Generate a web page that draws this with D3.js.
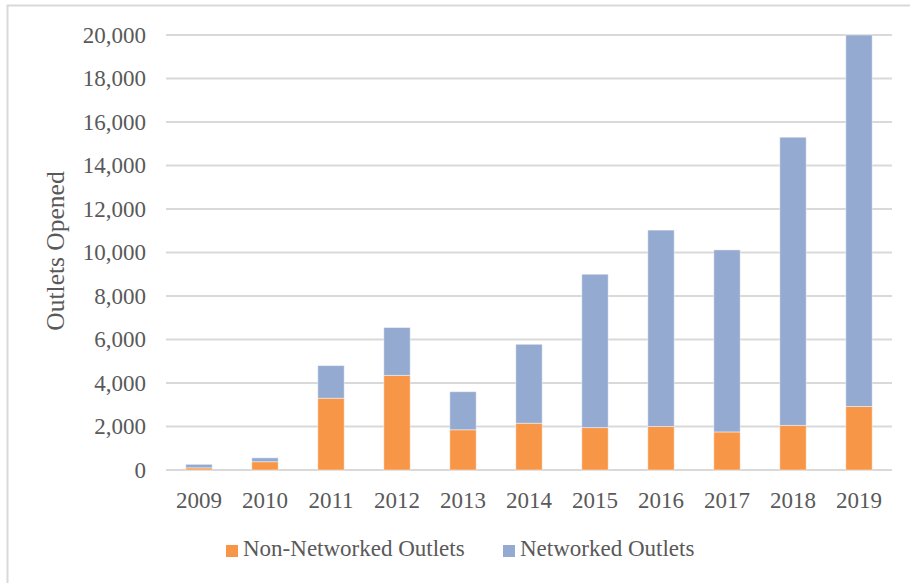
<!DOCTYPE html>
<html>
<head>
<meta charset="utf-8">
<script src="https://cdn.jsdelivr.net/npm/d3@7"></script>
<style>
  body{margin:0;background:#fff}
  svg text{font-family:"Liberation Serif","Times New Roman",serif;fill:#595959}
</style>
</head>
<body>
<svg id="chart" width="910" height="583"></svg>
<script>
// data
const years = ["2009","2010","2011","2012","2013","2014","2015","2016","2017","2018","2019"]
const nonNetworked = [100,380,3300,4350,1850,2150,1950,2000,1750,2050,2920]
const networked = [160,180,1500,2200,1750,3630,7050,9030,8370,13250,17080]
const yTicks = [0,2000,4000,6000,8000,10000,12000,14000,16000,18000,20000]
const seriesNames = ["Non-Networked Outlets","Networked Outlets"]
const colors = ["#F79646","#95AAD1"]

const svg = d3.select("#chart")
const fontSize = 23
const plotL = 166, plotR = 892, plotT = 35, plotB = 470

// outer chart border (only left/top visible in the crop)
svg.append("rect")
  .attr("x",7.5).attr("y",5.5)
  .attr("width",1000).attr("height",700)
  .attr("fill","none").attr("stroke","#D9D9D9").attr("stroke-width",2)

const x = d3.scaleBand().domain(years).range([plotL,plotR]).paddingInner(0.6).paddingOuter(0.3)
const y = d3.scaleLinear().domain([0,20000]).range([plotB,plotT])

// gridlines
svg.append("g").selectAll("line").data(yTicks).join("line")
  .attr("x1",plotL).attr("x2",plotR)
  .attr("y1",d=>y(d)).attr("y2",d=>y(d))
  .attr("stroke","#D9D9D9").attr("stroke-width",2)

// y axis labels
const yAxis = d3.axisLeft(y).tickValues(yTicks).tickFormat(d3.format(",")).tickSize(0).tickPadding(0)
const yg = svg.append("g").attr("transform",`translate(146,0)`).call(yAxis)
yg.select(".domain").remove()
yg.selectAll("text").attr("font-size",fontSize).attr("font-family",null).attr("fill",null)

// stacked bars
const table = years.map((yr,i)=>({year:yr,non:nonNetworked[i],net:networked[i]}))
const stack = d3.stack().keys(["non","net"])(table)
svg.append("g").selectAll("g").data(stack).join("g")
  .attr("fill",(d,i)=>colors[i])
  .selectAll("rect").data(d=>d).join("rect")
  .attr("x",d=>x(d.data.year))
  .attr("width",x.bandwidth())
  .attr("y",d=>y(d[1]))
  .attr("height",d=>y(d[0])-y(d[1]))
  .attr("stroke","#fff").attr("stroke-opacity",0.45).attr("stroke-width",1)

// x axis labels
const xAxis = d3.axisBottom(x).tickSize(0).tickPadding(0)
const xg = svg.append("g").attr("transform",`translate(0,490)`).call(xAxis)
xg.select(".domain").remove()
xg.selectAll("text").attr("font-size",fontSize).attr("font-family",null).attr("fill",null).attr("dy","0.8em")

// y axis title
svg.append("text")
  .attr("transform",`translate(64,251) rotate(-90)`)
  .attr("text-anchor","middle")
  .attr("font-size",25.5)
  .text("Outlets Opened")

// legend
const legendX = [226,503]
const lg = svg.append("g").selectAll("g").data(seriesNames).join("g")
  .attr("transform",(d,i)=>`translate(${legendX[i]},545)`)
lg.append("rect").attr("width",12).attr("height",12).attr("fill",(d,i)=>colors[i])
lg.append("text").attr("x",17).attr("y",11).attr("font-size",fontSize).text(d=>d)
</script>
</body>
</html>
